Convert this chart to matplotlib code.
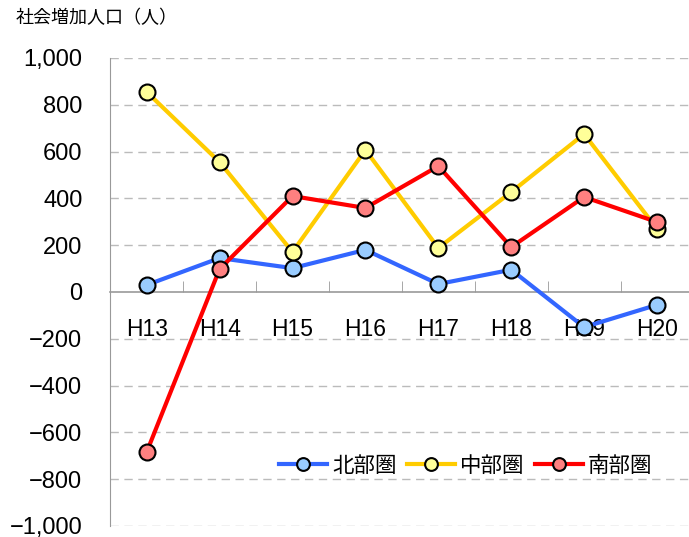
import numpy as np
import matplotlib
matplotlib.use('Agg')
import matplotlib.pyplot as plt
from matplotlib.ticker import FuncFormatter

plt.rcParams['font.family'] = ['Liberation Sans', 'Noto Sans CJK JP', 'DejaVu Sans']

years = ['H13', 'H14', 'H15', 'H16', 'H17', 'H18', 'H19', 'H20']
north = [30, 145, 102, 180, 34, 95, -150, -55]
middle = [855, 555, 171, 607, 188, 427, 675, 270]
south = [-684, 98, 410, 359, 538, 192, 406, 299]

series = [
    ('北部圏', north, '#3366FF', '#99CCFF'),
    ('中部圏', middle, '#FFCC00', '#FFFF99'),
    ('南部圏', south, '#FF0000', '#FF8080'),
]

fig = plt.figure(figsize=(6.89, 5.37), dpi=100)
ax = fig.add_axes([0.160, 0.0205, 0.8465, 0.8715])

x = np.arange(len(years))
for i, (name, vals, lc, fc) in enumerate(series):
    ax.plot(x, vals, color=lc, lw=3, marker='o', ms=11.5, mfc=fc,
            mec='black', mew=1.5, label=name, zorder=3 + i)

ax.set_xlim(-0.5, len(years) - 0.5)
ax.set_ylim(-1000, 1000)
ax.set_yticks(np.arange(-1000, 1001, 200))
ax.yaxis.set_major_formatter(FuncFormatter(lambda v, p: f'{int(v):,}'.replace('-', '\u2212')))
ax.tick_params(axis='y', length=0, labelsize=17, pad=20)

for v in np.arange(-1000, 1001, 200):
    if v != 0:
        ax.axhline(v, color='#BBBBBB', lw=1, ls=(0, (6, 4)), zorder=1)

ax.spines['top'].set_visible(False)
ax.spines['right'].set_visible(False)
ax.spines['left'].set_color('#999999')
ax.spines['bottom'].set_position(('data', 0))
ax.spines['bottom'].set_color('#999999')
ax.spines['bottom'].set_linewidth(1.2)

ax.set_xticks(x)
ax.set_xticklabels(years)
ax.set_xticks(np.arange(0.5, len(years) - 1, 1), minor=True)
ax.tick_params(axis='x', which='major', length=0, labelsize=16.5, pad=19)
ax.tick_params(axis='x', which='minor', direction='in', length=8, color='#999999')

fig.text(0.022, 0.966, '社会増加人口（人）', fontsize=13, va='center', ha='left')

ax.legend(loc='center', bbox_to_anchor=(0.61, 0.128), ncol=3, frameon=False,
          fontsize=15.5, handlelength=2.2, columnspacing=0.5, handletextpad=0.25,
          markerscale=0.8)

fig.savefig('out.png', dpi=100)
